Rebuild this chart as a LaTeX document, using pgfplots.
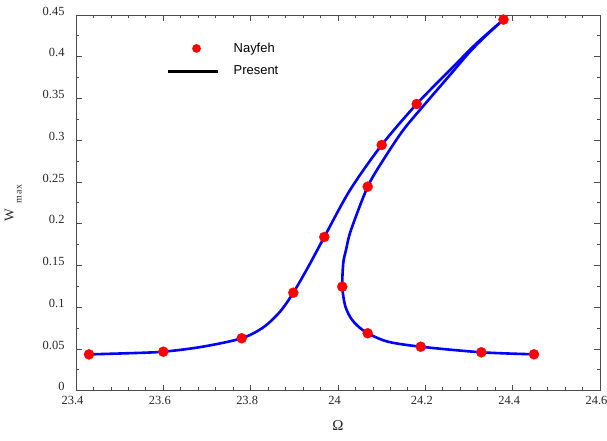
\documentclass[border=0pt]{standalone}
\usepackage{fontspec}
\setmainfont{Liberation Serif}
\newfontfamily\legendfont{Liberation Sans}
\usepackage{pgfplots}
\pgfplotsset{compat=1.18}

% Frequency response: stable (upper) branch and unstable/lower branch
\pgfplotstableread{
x        y
23.4298  0.0435
23.5145  0.0448
23.6000  0.0467
23.6900  0.0527
23.7795  0.0628
23.8289  0.0759
23.8672  0.0946
23.8977  0.1174
23.9320  0.1485
23.9686  0.1841
24.0275  0.2403
24.1001  0.2943
24.1802  0.3434
24.2641  0.3881
24.3177  0.4162
24.3790  0.4445
}\upperbranch

\pgfplotstableread{
x        y
24.3790  0.4445
24.3405  0.4261
24.3023  0.4061
24.2565  0.3782
24.1992  0.3434
24.1495  0.3123
24.1037  0.2764
24.0680  0.2444
24.0298  0.1925
24.0183  0.1685
24.0121  0.1530
24.0098  0.1246
24.0160  0.1026
24.0275  0.0886
24.0428  0.0787
24.0680  0.0688
24.1145  0.0587
24.1894  0.0527
24.3282  0.0460
24.4488  0.0436
}\lowerbranch

% Reference solution (Nayfeh)
\pgfplotstableread{
x        y
23.4298  0.0435
23.6000  0.0467
23.7795  0.0628
23.8977  0.1174
23.9686  0.1841
24.1001  0.2943
24.1802  0.3434
24.3790  0.4445
24.0680  0.2444
24.0098  0.1246
24.0680  0.0688
24.1894  0.0527
24.3282  0.0460
24.4488  0.0436
}\nayfeh

\begin{document}
\begin{tikzpicture}
\begin{axis}[
  name=ax,
  scale only axis,
  width=524bp, height=375.7bp,
  xmin=23.4, xmax=24.6, ymin=0, ymax=0.45,
  xtick={23.4,23.6,23.8,24,24.2,24.4,24.6},
  ytick={0,0.05,0.1,0.15,0.2,0.25,0.3,0.35,0.4,0.45},
  scaled ticks=false,
  /pgf/number format/.cd, fixed, precision=2, assume math mode=true,
  /pgfplots/.cd,
  minor x tick num=4, minor y tick num=1,
  tick align=inside,
  major tick length=5.7bp, minor tick length=3.3bp,
  axis line style={black!70, line width=0.8bp},
  every tick/.style={black!70, line width=0.8bp},
  tick label style={font=\fontsize{12.5}{14}\selectfont, text=black!85},
  yticklabel style={yshift=4bp, xshift=-8bp},
  xticklabel style={yshift=-2bp, xshift=-3.5bp},
  xlabel={\fontsize{15}{17}\selectfont Ω},
  xlabel style={at={(axis description cs:0.5,-0.069)}, anchor=north, text=black!85},
  ylabel={\fontsize{13.5}{15}\selectfont W\hspace{5bp}\raisebox{-8bp}{\fontsize{10}{10}\selectfont m\hspace{1.5bp}ax}},
  ylabel style={at={(axis description cs:-0.097,0.5)}, anchor=south, text=black!85},
  legend style={at={(rel axis cs:0.1718,0.9308)}, anchor=north west,
    draw=none, fill=none, inner sep=0pt, outer sep=0pt,
    row sep=8bp, column sep=12bp,
    font=\legendfont\fontsize{13}{15}\selectfont},
  legend cell align=left,
]
\addplot[blue, line width=2.6bp, smooth, forget plot] table {\upperbranch};
\addplot[blue, line width=2.6bp, smooth, forget plot] table {\lowerbranch};
\addplot[only marks, mark=*, mark size=5bp, red, mark options={draw=red, fill=red}, forget plot] table {\nayfeh};

\addlegendimage{legend image code/.code={
  \path[draw=none, fill=none] (0bp,0bp) -- (50.7bp,0bp);
  \fill[red, draw=none] (29bp,0bp) circle[radius=4.4bp];}}
\addlegendentry{Nayfeh}
\addlegendimage{legend image code/.code={
  \draw[black, line width=3bp] (0bp,0bp) -- (50.7bp,0bp);}}
\addlegendentry{Present}
\end{axis}
\pgfresetboundingbox
\path[use as bounding box] ([xshift=-76bp,yshift=-50.3bp]ax.south west)
  rectangle ([xshift=7bp,yshift=15bp]ax.north east);
\end{tikzpicture}
\end{document}
